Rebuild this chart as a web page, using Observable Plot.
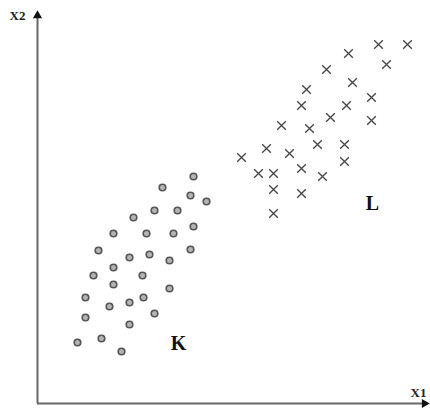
<!DOCTYPE html>
<html>
<head>
<meta charset="utf-8">
<script src="https://cdn.jsdelivr.net/npm/d3@7"></script>
<script src="https://cdn.jsdelivr.net/npm/@observablehq/plot@0.6"></script>
<style>
  html, body { margin: 0; padding: 0; background: #fff; }
  #chart { width: 430px; height: 410px; }
</style>
</head>
<body>
<div id="chart"></div>
<script>
// Group K (circles)
const kX1 = [156,125,153,169,117,140,96,156,76,109,136,61,153,112,92,132,76,56,105,76,132,48,106,92,72,117,48,92,64,40,84];
const kX2 = [227,216,208,202,193,193,186,177,170,170,170,153,154,149,146,143,136,128,128,119,115,106,106,101,97,90,86,79,65,61,52];
// Group L (crosses)
const lX1 = [341,370,311,349,289,315,269,334,264,309,293,334,244,272,280,307,229,252,204,307,221,236,264,285,236,264,236];
const lX2 = [359,359,350,339,334,321,314,306,298,298,286,283,278,275,259,259,255,250,246,242,230,230,235,227,214,210,190];
// Cluster labels
const clusterNames = ["K", "L"];
const clusterX1 = [141, 335];
const clusterX2 = [60, 200];
// Axis names and extents
const axisNames = ["X1", "X2"];
const axisNameX1 = [381, -20];
const axisNameX2 = [11, 388];
const axisEnd = [387, 388]; // arrow tip centres on X1 and X2

const kData = kX1.map((x, i) => ({x1: x, x2: kX2[i]}));
const lData = lX1.map((x, i) => ({x1: x, x2: lX2[i]}));
const clusterData = clusterNames.map((n, i) => ({name: n, x1: clusterX1[i], x2: clusterX2[i]}));
const axisData = axisNames.map((n, i) => ({name: n, x1: axisNameX1[i], x2: axisNameX2[i]}));

const plot = Plot.plot({
  width: 430,
  height: 410,
  margin: 0,
  x: {domain: [-37, 393], axis: null},
  y: {domain: [-7, 403], axis: null},
  style: {background: "#fff"},
  marks: [
    // axes
    Plot.ruleY([0], {x1: 0, x2: axisEnd[0] - 2, stroke: "#666", strokeWidth: 2}),
    Plot.ruleX([0], {y1: 0, y2: axisEnd[1] - 2, stroke: "#666", strokeWidth: 2}),
    Plot.dot([{x1: axisEnd[0], x2: 0}], {x: "x1", y: "x2", symbol: "triangle", r: 3.4, fill: "#111", stroke: "none", rotate: 90}),
    Plot.dot([{x1: 0, x2: axisEnd[1]}], {x: "x1", y: "x2", symbol: "triangle", r: 3.4, fill: "#111", stroke: "none"}),
    // points
    Plot.dot(kData, {x: "x1", y: "x2", r: 3.3, fill: "#b4b4b4", stroke: "#555", strokeWidth: 1.6}),
    Plot.dot(lData, {x: "x1", y: "x2", symbol: "times", r: 4, stroke: "#444", strokeWidth: 1.3}),
    // labels
    Plot.text(clusterData, {x: "x1", y: "x2", text: "name", fontSize: 20, fontWeight: "bold", fontFamily: "Liberation Serif", fill: "#111"}),
    Plot.text(axisData, {x: "x1", y: "x2", text: "name", fontSize: 13, fontWeight: "bold", fontFamily: "Liberation Serif", fill: "#222"})
  ]
});
document.getElementById("chart").appendChild(plot);
</script>
</body>
</html>
